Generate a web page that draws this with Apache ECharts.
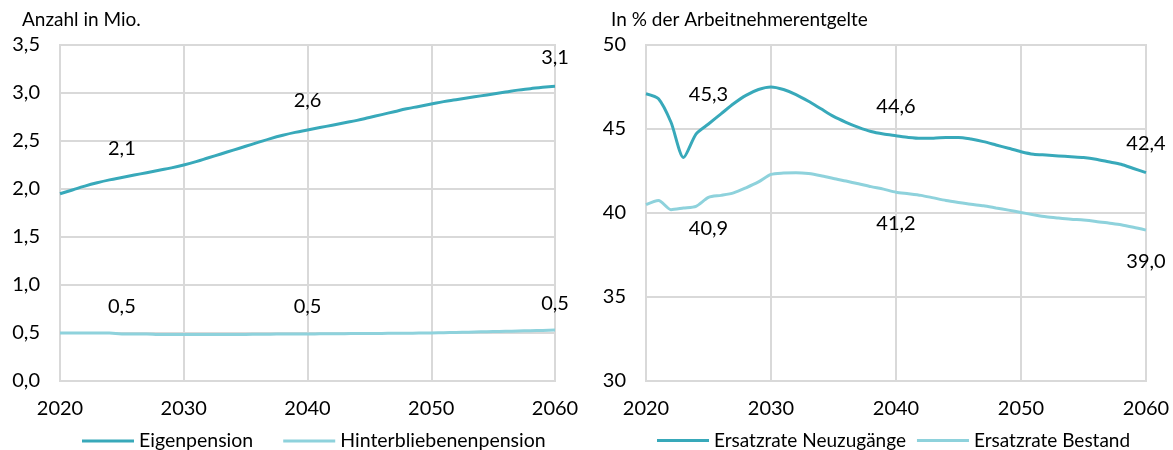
<!DOCTYPE html>
<html>
<head>
<meta charset="utf-8">
<script src="https://cdn.jsdelivr.net/npm/echarts@6/dist/echarts.min.js"></script>
<style>
  html, body { margin: 0; padding: 0; background: #fff; }
  #chart { width: 1173px; height: 450px; }
</style>
</head>
<body>
<div id="chart"></div>
<script>
// years 2020..2060
var years = [];
for (var y = 2020; y <= 2060; y++) years.push(y);

// left panel: Anzahl in Mio.
var eigenpension = [1.95, 1.99, 2.03, 2.065, 2.095, 2.12, 2.145, 2.17, 2.195, 2.22,
  2.25, 2.285, 2.325, 2.365, 2.405, 2.445, 2.485, 2.525, 2.56, 2.59,
  2.615, 2.64, 2.665, 2.69, 2.715, 2.745, 2.775, 2.805, 2.835, 2.86,
  2.885, 2.91, 2.93, 2.95, 2.97, 2.99, 3.01, 3.03, 3.045, 3.06, 3.07];
var hinterbliebene = [0.50, 0.50, 0.50, 0.50, 0.50, 0.49, 0.49, 0.49, 0.485, 0.485,
  0.485, 0.484, 0.484, 0.484, 0.485, 0.485, 0.487, 0.488, 0.489, 0.49,
  0.49, 0.491, 0.492, 0.493, 0.494, 0.495, 0.496, 0.497, 0.498, 0.499,
  0.50, 0.503, 0.506, 0.509, 0.512, 0.515, 0.518, 0.521, 0.524, 0.527, 0.53];

// right panel: In % der Arbeitnehmerentgelte
var neuzugaenge = [47.1, 46.8, 45.4, 43.3, 44.7, 45.3, 45.9, 46.5, 47.0, 47.35,
  47.5, 47.35, 47.05, 46.65, 46.2, 45.75, 45.4, 45.1, 44.85, 44.7,
  44.6, 44.5, 44.45, 44.45, 44.5, 44.5, 44.4, 44.25, 44.05, 43.85,
  43.65, 43.5, 43.45, 43.4, 43.35, 43.3, 43.2, 43.05, 42.9, 42.65, 42.4];
var bestand = [40.5, 40.75, 40.2, 40.3, 40.4, 40.93, 41.05, 41.2, 41.5, 41.85,
  42.3, 42.38, 42.4, 42.35, 42.22, 42.05, 41.9, 41.74, 41.57, 41.42,
  41.24, 41.15, 41.05, 40.9, 40.75, 40.63, 40.52, 40.43, 40.3, 40.17,
  40.03, 39.9, 39.78, 39.7, 39.63, 39.58, 39.5, 39.4, 39.3, 39.15, 38.98];

var labelYears = [2025, 2040, 2060];

var dark = '#38a9ba';
var light = '#8ed2dc';
var grey = '#d9d9d9';
var font = 'Lato, "Open Sans", sans-serif';

function comma(v) {
  return v.toFixed(1).replace('.', ',');
}

// pairs [year, value], label only on the marked years
function buildData(vals, pos, dist) {
  return years.map(function (yr, i) {
    var item = { value: [yr, vals[i]] };
    if (labelYears.indexOf(yr) >= 0) {
      item.label = { show: true, position: pos, distance: dist };
    }
    return item;
  });
}

function xAxis(idx) {
  return {
    type: 'value', gridIndex: idx, min: 2020, max: 2060, interval: 10,
    axisLine: { show: true, lineStyle: { color: grey, width: 2 } },
    axisTick: { show: false },
    splitLine: { show: true, lineStyle: { color: grey, width: 2 } },
    axisLabel: { color: '#000', fontSize: 20, fontFamily: font, margin: 18,
      formatter: function (v) { return String(v); } }
  };
}

function yAxis(idx, min, max, interval, fmt) {
  return {
    type: 'value', gridIndex: idx, min: min, max: max, interval: interval,
    axisLine: { show: true, lineStyle: { color: grey, width: 2 } },
    axisTick: { show: false },
    splitLine: { show: true, lineStyle: { color: grey, width: 2 } },
    axisLabel: { color: '#000', fontSize: 20, fontFamily: font, margin: 20, formatter: fmt }
  };
}

function line(name, vals, color, xi, yi, pos, dist, smooth) {
  return {
    name: name, type: 'line', xAxisIndex: xi, yAxisIndex: yi,
    data: buildData(vals, pos, dist),
    symbol: 'circle', symbolSize: 0, showSymbol: true, showAllSymbol: true,
    smooth: smooth,
    lineStyle: { color: color, width: 3 },
    itemStyle: { color: color },
    label: { show: false, color: '#000', fontSize: 20, fontFamily: font,
      formatter: function (p) { return comma(p.value[1]); } },
    labelLayout: { hideOverlap: false },
    emphasis: { disabled: true },
    z: 3
  };
}

var chart = echarts.init(document.getElementById('chart'));

var option = {
  backgroundColor: '#fff',
  animation: false,
  title: [
    { text: 'Anzahl in Mio.', left: 17, top: 5,
      textStyle: { fontSize: 19, fontWeight: 'normal', color: '#000', fontFamily: font } },
    { text: 'In % der Arbeitnehmerentgelte', left: 606, top: 5,
      textStyle: { fontSize: 19, fontWeight: 'normal', color: '#000', fontFamily: font } }
  ],
  grid: [
    { left: 60, right: 618, top: 45, bottom: 69, show: true, borderColor: grey, borderWidth: 2 },
    { left: 646, right: 27, top: 45, bottom: 69, show: true, borderColor: grey, borderWidth: 2 }
  ],
  legend: [
    { data: ['Eigenpension', 'Hinterbliebenenpension'], left: 77, top: 426,
      icon: 'rect', itemWidth: 52, itemHeight: 3, itemGap: 30,
      textStyle: { color: '#000', fontSize: 19.5, fontFamily: font } },
    { data: ['Ersatzrate Neuzugänge', 'Ersatzrate Bestand'], left: 652, top: 426,
      icon: 'rect', itemWidth: 52, itemHeight: 3, itemGap: 11,
      textStyle: { color: '#000', fontSize: 19, fontFamily: font } }
  ],
  xAxis: [xAxis(0), xAxis(1)],
  yAxis: [
    yAxis(0, 0, 3.5, 0.5, function (v) { return comma(v); }),
    yAxis(1, 30, 50, 5, function (v) { return String(v); })
  ],
  series: [
    line('Eigenpension', eigenpension, dark, 0, 0, 'top', 19, 0.5),
    line('Hinterbliebenenpension', hinterbliebene, light, 0, 0, 'top', 17, 0.5),
    line('Ersatzrate Neuzugänge', neuzugaenge, dark, 1, 1, 'top', 19, 0.25),
    line('Ersatzrate Bestand', bestand, light, 1, 1, 'bottom', 21, 0.25)
  ]
};

chart.setOption(option);
</script>
</body>
</html>
